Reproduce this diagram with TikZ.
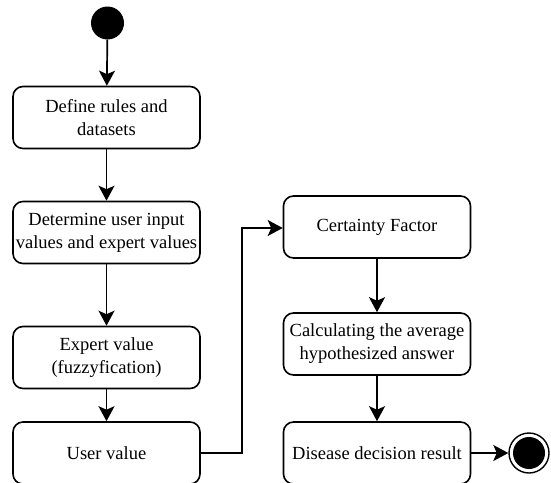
\documentclass[tikz,border=0pt]{standalone}
\usepackage{fontspec}
\setmainfont{Liberation Serif}
\usetikzlibrary{arrows.meta}
\begin{document}
\begin{tikzpicture}[x=1pt,y=-1pt,
  act/.style={draw=black, line width=1.6pt, rounded corners=10pt, minimum width=187pt, minimum height=62pt, inner sep=0pt, align=center, font=\fontsize{18.5pt}{23pt}\selectfont},
  flow/.style={draw=black, line width=1.7pt, -{Stealth[length=15pt,width=16pt,inset=3.5pt]}}]
\useasboundingbox (0,0) rectangle (551,482);
\node[circle, fill=black, minimum size=33pt, inner sep=0pt] (start) at (107.5,23) {};
\node[act] (b1) at (106.5,117.5) {Define rules and\\datasets};
\node[act] (b2) at (106.5,232.5) {Determine user input\\values and expert values};
\node[act] (b3) at (106.5,357.5) {Expert value\\(fuzzyfication)};
\node[act] (b4) at (106.5,453) {User value};
\node[act] (c1) at (377,227) {Certainty Factor};
\node[act] (c2) at (377,344) {Calculating the average\\hypothesized answer};
\node[act] (c3) at (377,453) {Disease decision result};
\node[circle, draw=black, line width=1.4pt, minimum size=40pt, inner sep=0pt] (endo) at (529,453) {};
\node[circle, fill=black, minimum size=32pt, inner sep=0pt] (endi) at (529,453) {};
\coordinate (k1) at (242,453);
\coordinate (k2) at (242,228);
\draw[flow] (start) -- (b1);
\draw[flow] (b1) -- (b2);
\draw[flow] (b2) -- (b3);
\draw[flow] (b3) -- (b4);
\draw[flow] (b4.east) -- (k1) -- (k2) -- (k2 -| c1.west);
\draw[flow] (c1) -- (c2);
\draw[flow] (c2) -- (c3);
\draw[flow] (c3) -- (endo);
\end{tikzpicture}
\end{document}
